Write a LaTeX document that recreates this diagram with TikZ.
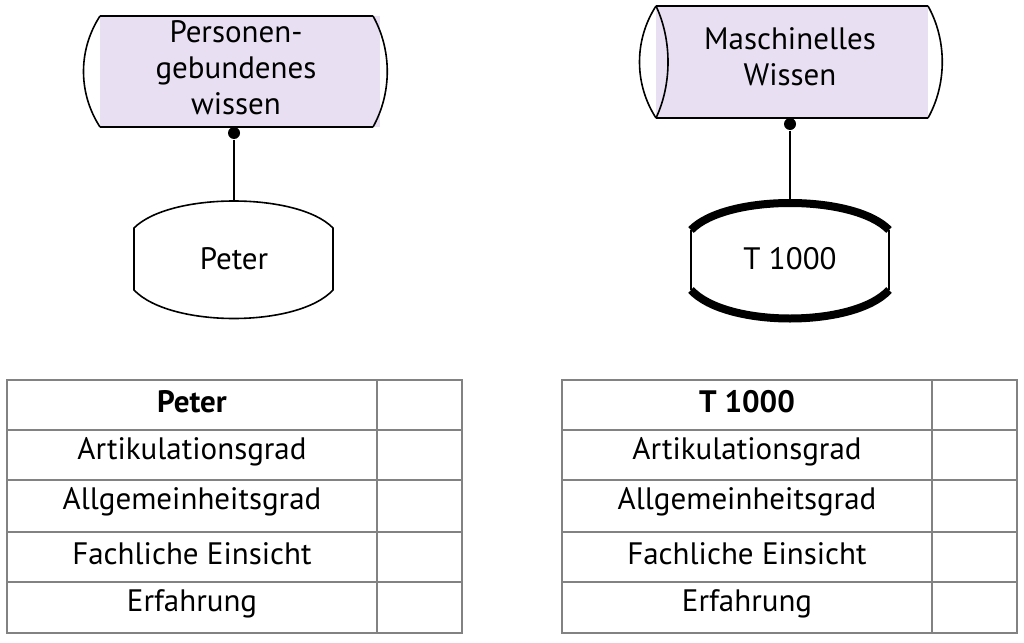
\documentclass[tikz,border=0pt]{standalone}
\usepackage{fontspec}
\setmainfont{PT Sans}
\usetikzlibrary{positioning}
\definecolor{lavender}{RGB}{232,224,242}
\definecolor{rule}{RGB}{130,130,130}
\begin{document}
\begin{tikzpicture}[x=1pt,y=-1pt,line width=1.6pt,font=\fontsize{31}{36}\selectfont]
\tikzstyle{txt}=[align=center, inner sep=0pt]
\tikzstyle{dot}=[circle, fill=black, inner sep=0pt, minimum size=12pt]
\tikzstyle{connect}=[line width=1.6pt]
\tikzstyle{grid}=[draw=rule, line width=2pt]
\useasboundingbox (0,0) rectangle (1024,642);
% knowledge categories
\fill[lavender] (100,16) rectangle (380,127);
\draw (100,16) -- (373,16) (100,127) -- (373,127);
\draw (100,16) .. controls (78,50) and (78,93) .. (100,127);
\draw (373,16) .. controls (392,50) and (392,93) .. (373,127);
\node[txt] (pw) at (236,68) {Personen-\\gebundenes\\wissen};
\fill[lavender] (656,6) rectangle (928,118);
\draw (656,6) -- (928,6) (656,118) -- (928,118);
\draw (656,6) .. controls (634,40) and (634,84) .. (656,118);
\draw (656,6) .. controls (672,40) and (672,84) .. (656,118);
\draw (928,6) .. controls (947,40) and (947,84) .. (928,118);
\node[txt] (mw) at (790,57) {Maschinelles\\Wissen};
% carriers
\draw (134,228) .. controls (170,192) and (298,192) .. (333,228) -- (333,290)
      .. controls (298,328) and (170,328) .. (134,290) -- cycle;
\node[txt] (peter) at (234,259) {Peter};
\draw (691,230) -- (691,290) (889,230) -- (889,290);
\draw[line width=8pt] (691,230) .. controls (726,194) and (854,194) .. (889,230);
\draw[line width=8pt] (691,290) .. controls (726,328) and (854,328) .. (889,290);
\node[txt] (t) at (790,259) {T 1000};
\node[dot] (dp) at (234,133) {};
\node[dot] (dt) at (790,124) {};
\coordinate (cp) at (234,201);
\coordinate (ct) at (790,203);
\draw[connect] (dp) -- (cp);
\draw[connect] (dt) -- (ct);
% tables
\foreach \x/\s/\n in {7/377/Peter, 562/932/T 1000} {
  \draw[grid] (\x,380) rectangle (\x+455,633);
  \draw[grid] (\s,380) -- (\s,633);
  \foreach \y in {430,480,532,582} \draw[grid] (\x,\y) -- (\x+455,\y);
  \node[txt,font=\fontsize{31}{36}\selectfont\bfseries] at ({(\x+\s)/2},402) {\n};
  \foreach \y/\t in {452/Artikulationsgrad, 502/Allgemeinheitsgrad, 554/Fachliche Einsicht, 604/Erfahrung}
    \node[txt] at ({(\x+\s)/2},\y) {\t};
}
\end{tikzpicture}
\end{document}
